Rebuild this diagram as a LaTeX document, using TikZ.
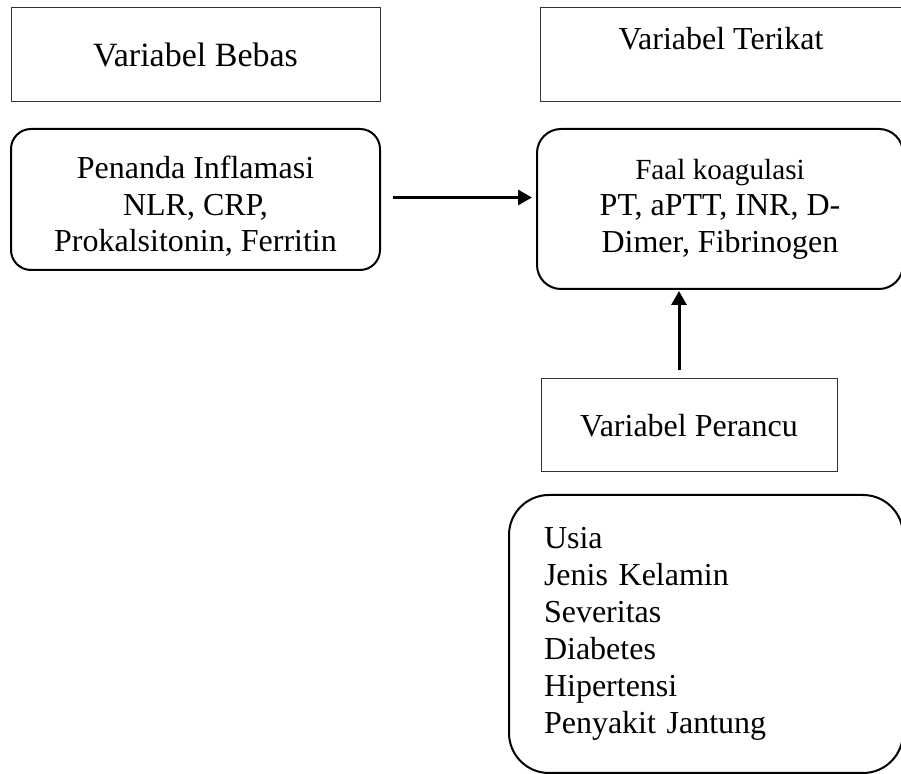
\documentclass[tikz,border=0pt]{standalone}
\usepackage{fontspec}
\setmainfont{Liberation Serif}
\usetikzlibrary{arrows.meta}

\begin{document}
\begin{tikzpicture}[x=0.5pt,y=-0.5pt,
    kotak/.style={draw=black!80, line width=0.5pt, align=center, inner sep=0pt},
    bulat/.style={draw, line width=1pt, rounded corners=#1, align=center, inner sep=0pt},
    panah/.style={-{Triangle[length=7pt,width=7.5pt]}, line width=1.5pt},
    teks/.style={font=\fontsize{16}{18.3}\selectfont}]

    \useasboundingbox (0,0) rectangle (901,774);

    % Judul variabel
    \node[kotak, font=\fontsize{17}{18.3}\selectfont, minimum width=184.5pt, minimum height=47pt] (bebas) at (195.5,55) {Variabel Bebas};
    \node[kotak, teks, minimum width=181pt, text height=21pt, text depth=26pt] (terikat) at (721,55) {Variabel Terikat};
    \node[kotak, teks, minimum width=148pt, minimum height=46.5pt] (perancu) at (689,425.5) {Variabel Perancu};

    % Isi variabel
    \node[bulat=10pt, teks, minimum width=184.5pt, minimum height=70.5pt] (penanda) at (195.5,199.5) {\rule{0pt}{18pt}Penanda Inflamasi\\NLR, CRP,\\Prokalsitonin, Ferritin};
    \node[bulat=12pt, teks, minimum width=183pt, minimum height=80pt] (faal) at (720,209) {{\fontsize{14.6}{18.3}\selectfont Faal koagulasi}\\PT, aPTT, INR, D-\\Dimer, Fibrinogen};
    \node[bulat=20pt, font=\fontsize{16}{18.5}\selectfont, align=left, text width=162pt, inner xsep=17.5pt, minimum height=139pt] (daftar) at (706,634) {Usia\\Jenis Kelamin\\Severitas\\Diabetes\\Hipertensi\\Penyakit Jantung};

    % Panah
    \draw[panah] ([xshift=6pt,yshift=1pt]penanda.east) -- ([xshift=-2pt,yshift=1pt]penanda.east -| faal.west);
    \draw[panah] ([xshift=-5pt,yshift=4pt]perancu.north) -- ([xshift=-5pt,yshift=-0.5pt]perancu.north |- faal.south);
\end{tikzpicture}
\end{document}
